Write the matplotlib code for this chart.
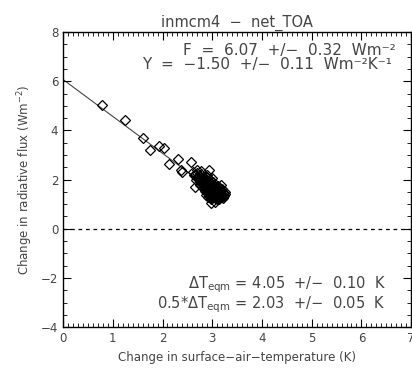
import matplotlib
matplotlib.use("Agg")
import matplotlib.pyplot as plt
from matplotlib.ticker import MultipleLocator

# sparse early years
early_x = [0.78, 1.24, 1.60, 1.74, 1.92, 2.04, 2.14, 2.32, 2.38, 2.40, 2.58, 2.94, 2.66, 3.18, 2.98]
early_y = [5.04, 4.43, 3.70, 3.20, 3.37, 3.30, 2.64, 2.84, 2.40, 2.30, 2.73, 2.40, 1.70, 1.79, 1.06]

# dense cluster of later years
clus_x = [2.62, 2.66, 2.70, 2.72, 2.74, 2.76, 2.77, 2.78, 2.80, 2.81, 2.82, 2.83, 2.84, 2.85,
          2.86, 2.86, 2.87, 2.88, 2.88, 2.89, 2.90, 2.90, 2.91, 2.92, 2.92, 2.93, 2.94, 2.94,
          2.95, 2.95, 2.96, 2.96, 2.97, 2.98, 2.98, 2.99, 3.00, 3.00, 3.01, 3.01, 3.02, 3.02,
          3.03, 3.04, 3.04, 3.05, 3.06, 3.06, 3.07, 3.08, 3.08, 3.09, 3.10, 3.10, 3.11, 3.12,
          3.13, 3.14, 3.15, 3.16, 3.17, 3.18, 3.20, 3.22, 3.24, 2.85, 2.80, 2.75, 2.92, 2.97,
          3.05, 2.70, 2.78, 2.90, 3.00, 3.12, 3.20, 3.26, 2.68, 2.88,
          2.72, 2.76, 2.79, 2.82, 2.84, 2.87, 2.89, 2.91, 2.93, 2.95, 2.97, 2.99, 3.01, 3.03,
          3.05, 3.07, 3.09, 3.11, 3.13, 3.15, 2.74, 2.78, 2.81, 2.85, 2.88, 2.91, 2.94, 2.97,
          3.00, 3.03, 3.06, 3.09, 3.12, 3.15, 3.18, 2.83, 2.87, 2.91, 2.95, 2.99, 3.03, 3.07,
          3.11, 2.80, 2.86, 2.92, 2.98, 3.04, 3.10, 3.16, 2.89, 2.96, 3.02, 3.08, 2.93, 3.00,
          2.64, 2.69, 3.22, 3.25, 2.83, 3.14]
clus_y = [2.30, 2.18, 2.25, 2.05, 2.15, 1.95, 2.22, 2.08, 1.88, 2.00, 2.12, 1.80, 1.95, 2.05,
          1.70, 1.88, 1.98, 1.62, 1.78, 2.10, 1.85, 1.55, 1.72, 1.95, 1.45, 1.65, 1.82, 1.52,
          1.70, 2.00, 1.40, 1.60, 1.78, 1.50, 1.88, 1.65, 1.35, 1.72, 1.55, 1.92, 1.45, 1.68,
          1.30, 1.58, 1.80, 1.40, 1.62, 1.25, 1.50, 1.35, 1.70, 1.55, 1.20, 1.42, 1.60, 1.32,
          1.48, 1.22, 1.38, 1.55, 1.28, 1.42, 1.30, 1.45, 1.35, 1.55, 1.72, 1.80, 1.30, 1.20,
          1.10, 2.40, 2.35, 2.20, 2.05, 1.75, 1.62, 1.50, 1.98, 1.38,
          2.12, 2.02, 1.92, 1.85, 1.75, 1.66, 1.58, 1.50, 1.42, 1.36, 1.30, 1.25, 1.40, 1.36,
          1.30, 1.28, 1.24, 1.48, 1.40, 1.30, 1.98, 1.90, 1.95, 1.82, 1.72, 1.62, 1.68, 1.58,
          1.48, 1.52, 1.45, 1.40, 1.50, 1.45, 1.36, 2.00, 1.92, 1.80, 1.85, 1.75, 1.62, 1.58,
          1.52, 2.05, 1.95, 1.88, 1.72, 1.70, 1.65, 1.48, 1.48, 1.55, 1.80, 1.62, 1.35, 1.28,
          2.20, 2.10, 1.25, 1.40, 1.65, 1.65]

F, Y = 6.07, -1.50
tc = "#444444"

fig = plt.figure(figsize=(4.12, 3.73), dpi=100)
ax = fig.add_axes([0.153, 0.123, 0.845, 0.791])

xs = early_x + clus_x
ys = early_y + clus_y
ax.plot([0, max(xs)], [F, F + Y * max(xs)], color="#444444", lw=0.8, zorder=1)
ax.plot(xs, ys, "D", mfc="none", mec="black", ms=5.5, mew=0.9, ls="none", zorder=2)
ax.axhline(0, color="black", ls=(0, (3, 3)), lw=0.9)

ax.set_xlim(0, 7)
ax.set_ylim(-4, 8)
ax.set_xticks(range(0, 8))
ax.set_yticks(range(-4, 9, 2))
ax.xaxis.set_minor_locator(MultipleLocator(0.1))
ax.yaxis.set_minor_locator(MultipleLocator(0.5))
ax.tick_params(which="both", direction="in", top=True, right=True, colors="black",
               labelcolor=tc, labelsize=8.5)
ax.tick_params(which="major", length=6, width=0.8)
ax.tick_params(which="minor", length=3, width=0.6)
for s in ax.spines.values():
    s.set_linewidth(1.0)

ax.set_title("inmcm4  \u2212  net_TOA", fontsize=10.5, color=tc, pad=4)
ax.set_xlabel("Change in surface\u2212air\u2212temperature (K)", fontsize=8.5, color=tc, labelpad=4)
ax.set_ylabel("Change in radiative flux (Wm$^{-2}$)", fontsize=8.5, color=tc, labelpad=4)

kw = dict(ha="right", va="center", fontsize=11, color=tc, transform=ax.transAxes)
ax.text(0.955, 0.939, "F  =  6.07  +/\u2212  0.32  Wm\u207b\u00b2", **kw)
ax.text(0.946, 0.890, "Y  =  \u22121.50  +/\u2212  0.11  Wm\u207b\u00b2K\u207b\u00b9", **kw)
kw["fontsize"] = 10.5
ax.text(0.928, 0.143, "$\\Delta$T$_{\\rm eqm}$ = 4.05  +/\u2212  0.10  K", **kw)
ax.text(0.928, 0.077, "0.5*$\\Delta$T$_{\\rm eqm}$ = 2.03  +/\u2212  0.05  K", **kw)

fig.savefig("out.png", dpi=100)
